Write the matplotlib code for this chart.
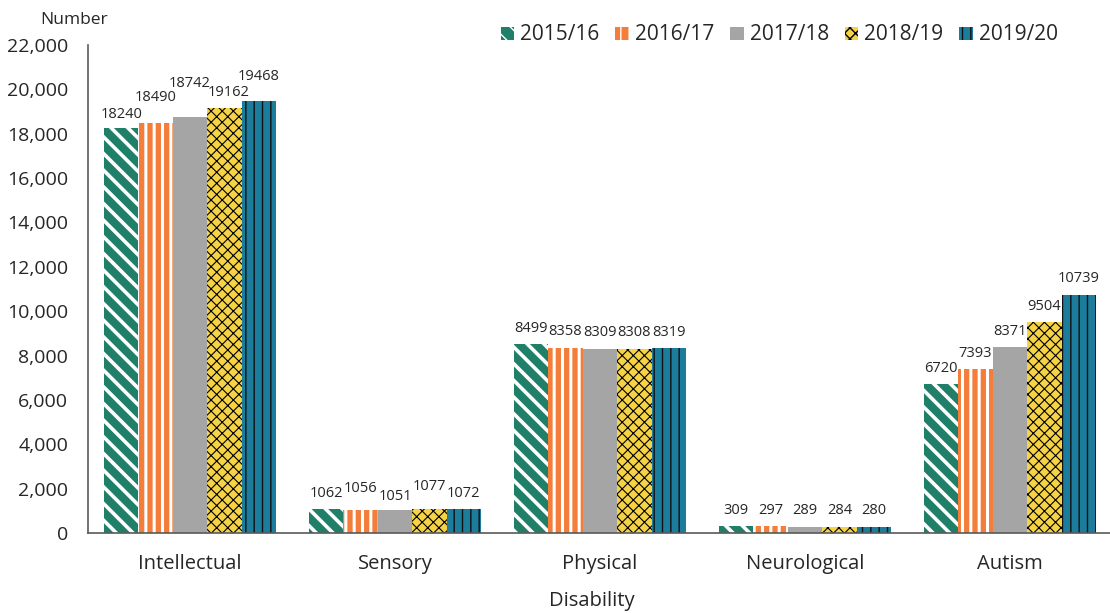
import numpy as np
import matplotlib.pyplot as plt
from matplotlib.ticker import FuncFormatter

categories = ['Intellectual', 'Sensory', 'Physical', 'Neurological', 'Autism']
years = ['2015/16', '2016/17', '2017/18', '2018/19', '2019/20']
v1516 = [18240, 1062, 8499, 309, 6720]
v1617 = [18490, 1056, 8358, 297, 7393]
v1718 = [18742, 1051, 8309, 289, 8371]
v1819 = [19162, 1077, 8308, 284, 9504]
v1920 = [19468, 1072, 8319, 280, 10739]
series = [v1516, v1617, v1718, v1819, v1920]

faces = ['#1f7f69', '#f47d3a', '#a5a5a5', '#f5d345', '#1b7c9c']
hatches = ['\\\\', '||', '', 'xxx', '||']
hcols = ['white', 'white', '#a5a5a5', 'black', '#111111']
hlw = [2.6, 2.2, 0.5, 0.8, 1.0]

# extra lift (points) of the value labels, staggered like the original so they don't collide
lift = {0: [-1.5, 7, 13, 0, 6], 1: [0, 3.5, -2, 5, 0]}
shift = {0: [0, 0, 0, 3, 0]}

plt.rcParams['font.family'] = ['Open Sans', 'DejaVu Sans']
txt = '#262626'

fig = plt.figure(figsize=(11.10, 6.13), dpi=100)
ax = fig.add_axes([87.5/1110, 80/613, 1025/1110, 488/613])

x = np.arange(len(categories))
w = 0.168
for i, vals in enumerate(series):
    pos = x + (i - 2) * w
    plt.rcParams['hatch.linewidth'] = hlw[i]
    bars = ax.bar(pos, vals, w, color=faces[i], hatch=hatches[i],
                  edgecolor=hcols[i], linewidth=0, label=years[i])
    for b in bars:
        try:
            b.set_hatch_linewidth(hlw[i])
        except AttributeError:
            pass
    for j, (p, v) in enumerate(zip(pos, vals)):
        dy = 6 + lift.get(j, [0] * 5)[i]
        dx = shift.get(j, [0] * 5)[i]
        ax.annotate(str(v), (p, v), xytext=(dx, dy), textcoords='offset points',
                    ha='center', va='bottom', fontsize=10.5, color=txt)

ax.set_xlim(-0.5, 4.5)
ax.set_ylim(0, 22000)
ax.set_yticks(range(0, 22001, 2000))
ax.yaxis.set_major_formatter(FuncFormatter(lambda v, p: f'{int(v):,}'))
ax.set_xticks(x)
ax.set_xticklabels(categories)
ax.tick_params(axis='y', length=0, labelsize=14, colors=txt, pad=14)
ax.tick_params(axis='x', length=0, labelsize=14.5, colors=txt, pad=15)
for s in ['top', 'right']:
    ax.spines[s].set_visible(False)
ax.spines['left'].set_color('#595959')
ax.spines['bottom'].set_color('#595959')
ax.spines['left'].set_linewidth(1.2)
ax.spines['bottom'].set_linewidth(1.2)

fig.text(74/1110, 1 - 20/613, 'Number', ha='center', va='center', fontsize=12.5, color=txt)
fig.text(592/1110, 1 - 601/613, 'Disability', ha='center', va='center', fontsize=14.5, color=txt)

ax.legend(loc='center right', bbox_to_anchor=(1058/1110, 1 - 35/613), bbox_transform=fig.transFigure,
          ncol=5, frameon=False, fontsize=15, handlelength=0.65, handleheight=0.6,
          handletextpad=0.3, columnspacing=0.75, borderpad=0, borderaxespad=0,
          labelcolor=txt)

fig.savefig('out.png', dpi=100)
